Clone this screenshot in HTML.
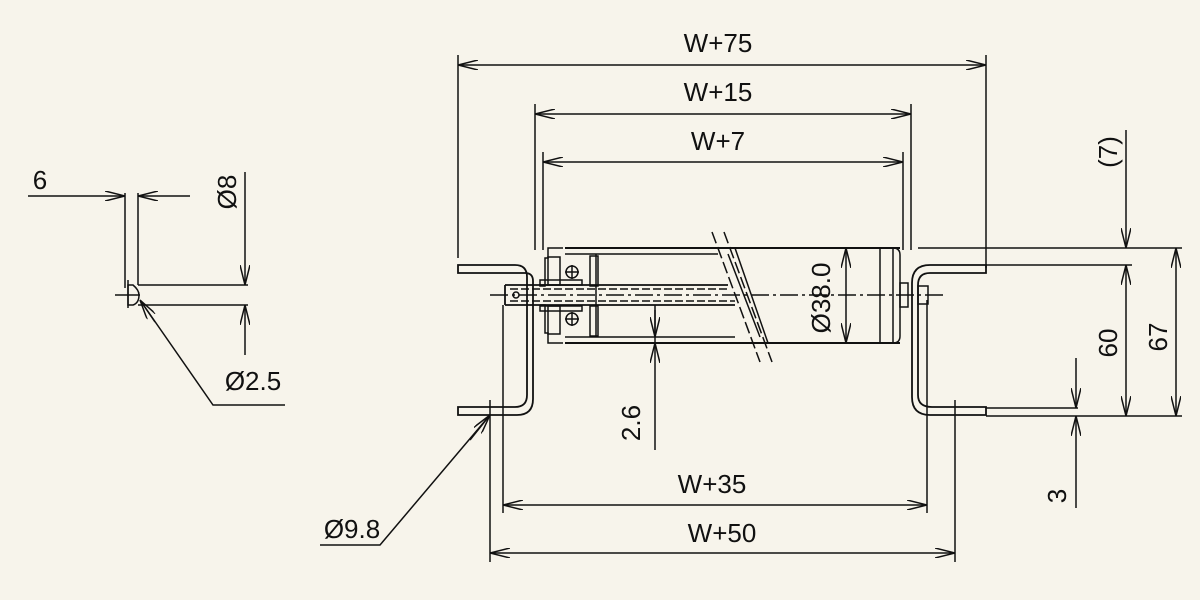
<!DOCTYPE html>
<html><head><meta charset="utf-8"><style>
html,body{margin:0;padding:0;background:#f7f4eb}
svg{display:block}
text{font-family:"Liberation Sans",sans-serif;font-size:26px;fill:#111}
</style></head><body>
<svg width="1200" height="600" viewBox="0 0 1200 600" xmlns="http://www.w3.org/2000/svg">
<defs>
<marker id="a" viewBox="0 0 20 10" refX="20" refY="5" markerWidth="20" markerHeight="10" markerUnits="userSpaceOnUse" orient="auto-start-reverse">
<path d="M0,0 L20,5 L0,10" fill="none" stroke="#111" stroke-width="1.5"/>
</marker>
</defs>
<g stroke="#111" stroke-width="1.5" fill="none">
<line x1="458" y1="55" x2="458" y2="258"/><line x1="986" y1="55" x2="986" y2="268"/>
<line x1="458" y1="65" x2="986" y2="65" marker-start="url(#a)" marker-end="url(#a)"/>
<line x1="535" y1="104" x2="535" y2="250"/><line x1="911" y1="104" x2="911" y2="250"/>
<line x1="535" y1="114" x2="911" y2="114" marker-start="url(#a)" marker-end="url(#a)"/>
<line x1="543" y1="152" x2="543" y2="250"/><line x1="903" y1="152" x2="903" y2="250"/>
<line x1="543" y1="162" x2="903" y2="162" marker-start="url(#a)" marker-end="url(#a)"/>

<path d="M458,265 H515 Q527,265 527,277 V395 Q527,407 515,407 H458 V415 H517 Q533,415 533,399 V281 Q533,273 525,273 H458 Z" stroke-width="1.8"/>
<path d="M986,265 H930 Q912,265 912,283 V397 Q912,415 930,415 H986 V407 H932 Q918,407 918,395 V285 Q918,273 930,273 H986 Z" stroke-width="1.8"/>

<line x1="565" y1="248" x2="900" y2="248" stroke-width="2"/>
<line x1="565" y1="343" x2="900" y2="343" stroke-width="2"/>
<line x1="565" y1="254" x2="718" y2="254"/>
<line x1="565" y1="337" x2="735" y2="337"/>
<line x1="596" y1="254" x2="596" y2="337"/>
<line x1="880" y1="248" x2="880" y2="343"/><line x1="893" y1="248" x2="893" y2="343"/>
<path d="M893,248 Q900,248 900,255 V336 Q900,343 893,343"/>
<path d="M563,248 H548 V258 H545 V286 H540 V284 M563,343 H548 V333 H545 V305 H540"/>
<rect x="548" y="257" width="12" height="28"/><rect x="548" y="306" width="12" height="28"/>
<circle cx="572" cy="272" r="6"/><circle cx="572" cy="319" r="6"/>
<line x1="565" y1="272" x2="579" y2="272"/><line x1="572" y1="265" x2="572" y2="279"/>
<line x1="565" y1="319" x2="579" y2="319"/><line x1="572" y1="312" x2="572" y2="326"/>
<rect x="540" y="280" width="42" height="5"/><rect x="540" y="306" width="42" height="5"/>
<rect x="590" y="256" width="8" height="30"/><rect x="590" y="306" width="8" height="30"/>
<path d="M505,285 H728 M505,305 H735 M505,285 V305" stroke-width="1.8"/>
<line x1="510" y1="289" x2="728" y2="289" stroke-dasharray="8,3"/>
<line x1="510" y1="301" x2="735" y2="301" stroke-dasharray="8,3"/>
<circle cx="516" cy="295" r="3"/>
<rect x="900" y="283" width="8" height="24"/>
<rect x="918" y="286" width="10" height="18"/>
<line x1="490" y1="295" x2="945" y2="295" stroke-dasharray="18,4,3,4"/>
<line x1="712" y1="232" x2="760" y2="362" stroke-dasharray="12,4"/>
<line x1="724" y1="232" x2="772" y2="362" stroke-dasharray="12,4"/>
<line x1="728" y1="254" x2="760" y2="337"/>
<line x1="735" y1="248" x2="768" y2="343"/>

<line x1="846" y1="248" x2="846" y2="343" marker-start="url(#a)" marker-end="url(#a)"/>
<line x1="655" y1="305" x2="655" y2="343"/>
<line x1="655" y1="310" x2="655" y2="337" marker-end="url(#a)"/>
<line x1="655" y1="450" x2="655" y2="343" marker-end="url(#a)"/>

<line x1="490" y1="400" x2="490" y2="562"/><line x1="955" y1="400" x2="955" y2="562"/>
<line x1="490" y1="553" x2="955" y2="553" marker-start="url(#a)" marker-end="url(#a)"/>
<line x1="503" y1="305" x2="503" y2="513"/><line x1="927" y1="300" x2="927" y2="513"/>
<line x1="503" y1="505" x2="927" y2="505" marker-start="url(#a)" marker-end="url(#a)"/>
<polyline points="320,545 380,545 490,415" />
<line x1="470" y1="440" x2="490" y2="415" marker-end="url(#a)"/>

<line x1="918" y1="248" x2="1182" y2="248"/>
<line x1="986" y1="265" x2="1132" y2="265"/>
<line x1="986" y1="408" x2="1078" y2="408"/>
<line x1="986" y1="416" x2="1182" y2="416"/>
<line x1="1126" y1="130" x2="1126" y2="248" marker-end="url(#a)"/>
<line x1="1126" y1="265" x2="1126" y2="416" marker-start="url(#a)" marker-end="url(#a)"/>
<line x1="1176" y1="248" x2="1176" y2="416" marker-start="url(#a)" marker-end="url(#a)"/>
<line x1="1076" y1="358" x2="1076" y2="408" marker-end="url(#a)"/>
<line x1="1076" y1="508" x2="1076" y2="416" marker-end="url(#a)"/>

<line x1="125" y1="193" x2="125" y2="288"/><line x1="138" y1="193" x2="138" y2="285"/>
<line x1="28" y1="196" x2="125" y2="196" marker-end="url(#a)"/>
<line x1="190" y1="196" x2="138" y2="196" marker-end="url(#a)"/>
<path d="M128,285 H133 Q139,290 139,295 Q139,303 133,305 H128 Z"/>
<line x1="115" y1="295" x2="140" y2="295"/><line x1="128" y1="280" x2="128" y2="308"/>
<line x1="138" y1="285" x2="248" y2="285"/><line x1="138" y1="305" x2="248" y2="305"/>
<line x1="245" y1="172" x2="245" y2="285" marker-end="url(#a)"/>
<line x1="245" y1="355" x2="245" y2="305" marker-end="url(#a)"/>
<polyline points="285,405 213,405 140,300"/>
<line x1="155" y1="322" x2="140" y2="300" marker-end="url(#a)"/>
</g>
<text x="718" y="52" text-anchor="middle">W+75</text>
<text x="718" y="101" text-anchor="middle">W+15</text>
<text x="718" y="150" text-anchor="middle">W+7</text>
<text x="712" y="493" text-anchor="middle">W+35</text>
<text x="722" y="542" text-anchor="middle">W+50</text>
<text x="352" y="538" text-anchor="middle">Ø9.8</text>
<text x="40" y="189" text-anchor="middle">6</text>
<text x="253" y="390" text-anchor="middle">Ø2.5</text>
<text transform="translate(236,192) rotate(-90)" text-anchor="middle">Ø8</text>
<text transform="translate(830,298) rotate(-90)" text-anchor="middle">Ø38.0</text>
<text transform="translate(640,423) rotate(-90)" text-anchor="middle">2.6</text>
<text transform="translate(1117,152) rotate(-90)" text-anchor="middle">(7)</text>
<text transform="translate(1117,343) rotate(-90)" text-anchor="middle">60</text>
<text transform="translate(1167,337) rotate(-90)" text-anchor="middle">67</text>
<text transform="translate(1066,496) rotate(-90)" text-anchor="middle">3</text>
</svg>
</body></html>
